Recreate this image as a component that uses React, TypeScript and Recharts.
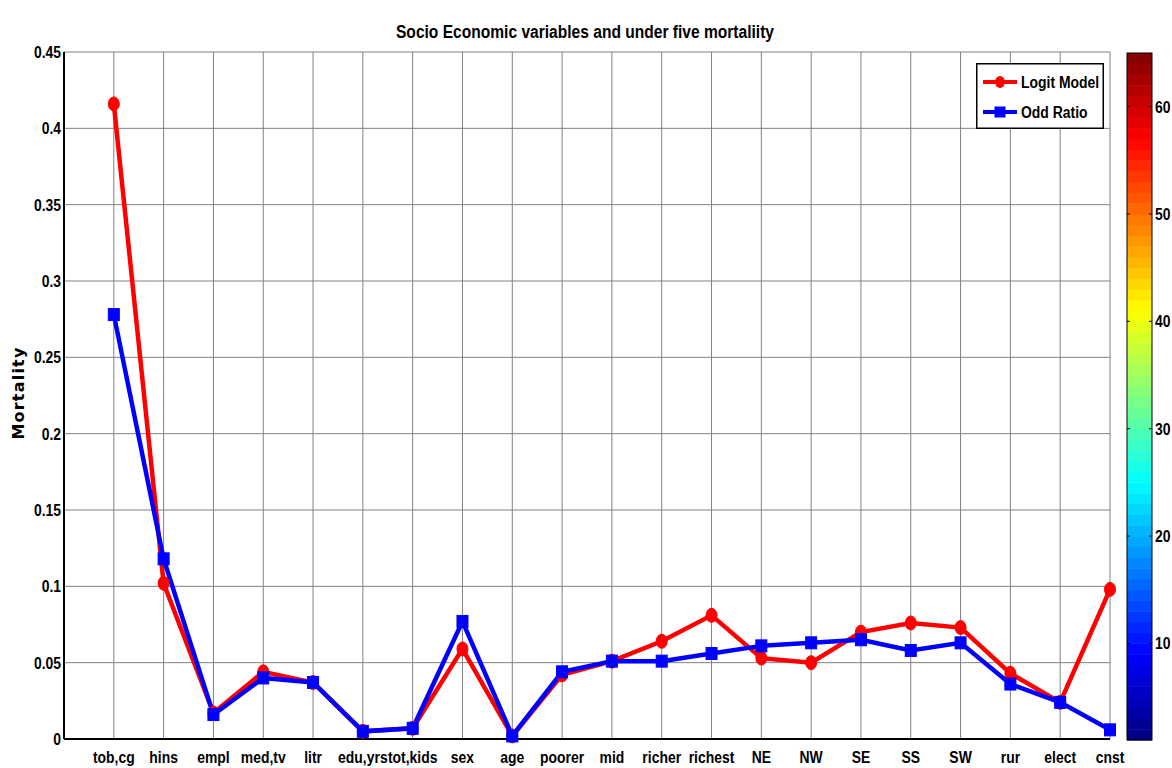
import React from 'react';
import { LineChart, Line, XAxis, YAxis, CartesianGrid, Legend } from 'recharts';

const categories = ['tob,cg', 'hins', 'empl', 'med,tv', 'litr', 'edu,yrs', 'tot,kids', 'sex', 'age', 'poorer', 'mid', 'richer', 'richest', 'NE', 'NW', 'SE', 'SS', 'SW', 'rur', 'elect', 'cnst'];
const logitModel = [0.416, 0.102, 0.017, 0.044, 0.037, 0.005, 0.007, 0.059, 0.002, 0.042, 0.051, 0.064, 0.081, 0.053, 0.050, 0.070, 0.076, 0.073, 0.043, 0.024, 0.098];
const oddRatio = [0.278, 0.118, 0.016, 0.040, 0.037, 0.005, 0.007, 0.077, 0.002, 0.044, 0.051, 0.051, 0.056, 0.061, 0.063, 0.065, 0.058, 0.063, 0.036, 0.024, 0.006];
const yTicks = [0, 0.05, 0.1, 0.15, 0.2, 0.25, 0.3, 0.35, 0.4, 0.45];
const colorbarTicks = [10, 20, 30, 40, 50, 60];
const colorbarRange = [1, 65];

const data = categories.map((name, i) => ({ x: i + 1, name, logit: logitModel[i], odd: oddRatio[i] }));
const xTicks = categories.map((_, i) => i + 1);

const FONT = "'Liberation Sans', Arial, sans-serif";
const SX = 0.82;

const NarrowText = ({ x, y, anchor = 'start', size = 17, dy = '0', children }: any) => (
  <text
    transform={`translate(${x},${y}) scale(${SX},1)`}
    textAnchor={anchor}
    dy={dy}
    fontFamily={FONT}
    fontWeight="bold"
    fontSize={size}
    fill="#000"
  >
    {children}
  </text>
);

const jet = (t: number) => {
  const c = (v: number) => Math.max(0, Math.min(1, v));
  const r = c(1.5 - Math.abs(4 * t - 3));
  const g = c(1.5 - Math.abs(4 * t - 2));
  const b = c(1.5 - Math.abs(4 * t - 1));
  return `rgb(${Math.round(r * 255)},${Math.round(g * 255)},${Math.round(b * 255)})`;
};

const RedDot = (props: any) => {
  const { cx, cy, index } = props;
  if (cx == null || cy == null) return null;
  return <ellipse key={`r${index}`} cx={cx} cy={cy} rx={5.5} ry={7} fill="#ff0000" stroke="#ff0000" strokeWidth={1} />;
};
const BlueDot = (props: any) => {
  const { cx, cy, index } = props;
  if (cx == null || cy == null) return null;
  return <rect key={`b${index}`} x={cx - 5.5} y={cy - 6} width={11} height={12} fill="#0000ff" stroke="#0000ff" strokeWidth={1} />;
};

const XTick = (props: any) => {
  const { x, y, payload } = props;
  return <NarrowText x={x} y={y} anchor="middle" dy="0.71em">{categories[payload.value - 1] ?? ''}</NarrowText>;
};
const YTick = (props: any) => {
  const { x, y, payload } = props;
  return <NarrowText x={x} y={y} anchor="end" dy="0.355em">{String(Number(Number(payload.value).toFixed(2)))}</NarrowText>;
};

const renderLegend = () => (
  <svg width={128} height={66} style={{ display: 'block' }}>
    <rect x={0.75} y={0.75} width={126.5} height={64.5} fill="#ffffff" stroke="#000000" strokeWidth={1.5} />
    <line x1={7} x2={41} y1={19} y2={19} stroke="#ff0000" strokeWidth={4} />
    <ellipse cx={24} cy={19} rx={5} ry={6} fill="#ff0000" />
    <NarrowText x={45} y={25}>Logit Model</NarrowText>
    <line x1={7} x2={41} y1={49} y2={49} stroke="#0000ff" strokeWidth={4} />
    <rect x={18.5} y={43.5} width={11} height={11} fill="#0000ff" />
    <NarrowText x={45} y={55}>Odd Ratio</NarrowText>
  </svg>
);

const Colorbar = () => {
  const left = 1127, right = 1152, top = 53, bottom = 740;
  const n = 64;
  const h = (bottom - top) / n;
  const yOf = (v: number) => bottom - ((v - colorbarRange[0]) / (colorbarRange[1] - colorbarRange[0])) * (bottom - top);
  const bands = [];
  for (let i = 0; i < n; i++) {
    bands.push(<rect key={i} x={left} y={bottom - (i + 1) * h} width={right - left} height={h + 0.5} fill={jet((i + 0.5) / n)} />);
  }
  return (
    <g>
      {bands}
      <rect x={left} y={top} width={right - left} height={bottom - top} fill="none" stroke="#000" strokeWidth={1} />
      {colorbarTicks.map((t) => (
        <g key={t}>
          <line x1={left} x2={left + 3} y1={yOf(t)} y2={yOf(t)} stroke="#000" />
          <line x1={right - 3} x2={right} y1={yOf(t)} y2={yOf(t)} stroke="#000" />
          <NarrowText x={right + 3} y={yOf(t)} dy="0.355em">{t}</NarrowText>
        </g>
      ))}
    </g>
  );
};

export default function App() {
  return (
    <div style={{ position: 'absolute', left: 0, top: 0, width: 1172, height: 768, background: '#fff' }}>
      <LineChart width={1172} height={768} data={data} margin={{ top: 52, right: 62, bottom: 0, left: 0 }}>
        <CartesianGrid stroke="#808080" strokeWidth={1} />
        <XAxis
          dataKey="x"
          type="number"
          domain={[0, 21]}
          ticks={xTicks}
          interval={0}
          height={29}
          tickLine={false}
          tickMargin={6}
          axisLine={{ stroke: '#000', strokeWidth: 2 }}
          tick={<XTick />}
        />
        <XAxis xAxisId="top" orientation="top" type="number" domain={[0, 21]} height={0} tick={false} tickLine={false} axisLine={{ stroke: '#000', strokeWidth: 1.5 }} />
        <YAxis
          type="number"
          domain={[0, 0.45]}
          ticks={yTicks}
          interval={0}
          width={64}
          tickLine={false}
          tickSize={1}
          tickMargin={2}
          axisLine={{ stroke: '#000', strokeWidth: 2 }}
          tick={<YTick />}
        />
        <YAxis yAxisId="right" orientation="right" width={0} tick={false} tickLine={false} axisLine={{ stroke: '#000', strokeWidth: 1.5 }} />
        <Legend layout="vertical" align="center" verticalAlign="middle" content={renderLegend} wrapperStyle={{ position: 'absolute', left: 976, top: 63, width: 128, height: 66 }} />
        <Line type="linear" dataKey="logit" name="Logit Model" stroke="#ff0000" strokeWidth={4.5} dot={RedDot} activeDot={false} isAnimationActive={false} />
        <Line type="linear" dataKey="odd" name="Odd Ratio" stroke="#0000ff" strokeWidth={4.5} dot={BlueDot} activeDot={false} isAnimationActive={false} />
      </LineChart>
      <svg width={1172} height={768} style={{ position: 'absolute', left: 0, top: 0, pointerEvents: 'none' }}>
        <NarrowText x={585} y={38} anchor="middle" size={19}>Socio Economic variables and under five mortaliity</NarrowText>
        <text x={24} y={393} transform="rotate(-90 24 393)" textAnchor="middle" fontFamily="'DejaVu Sans', sans-serif" fontWeight="bold" fontSize={16} letterSpacing={1.2} fill="#000">Mortality</text>
        <Colorbar />
      </svg>
    </div>
  );
}
